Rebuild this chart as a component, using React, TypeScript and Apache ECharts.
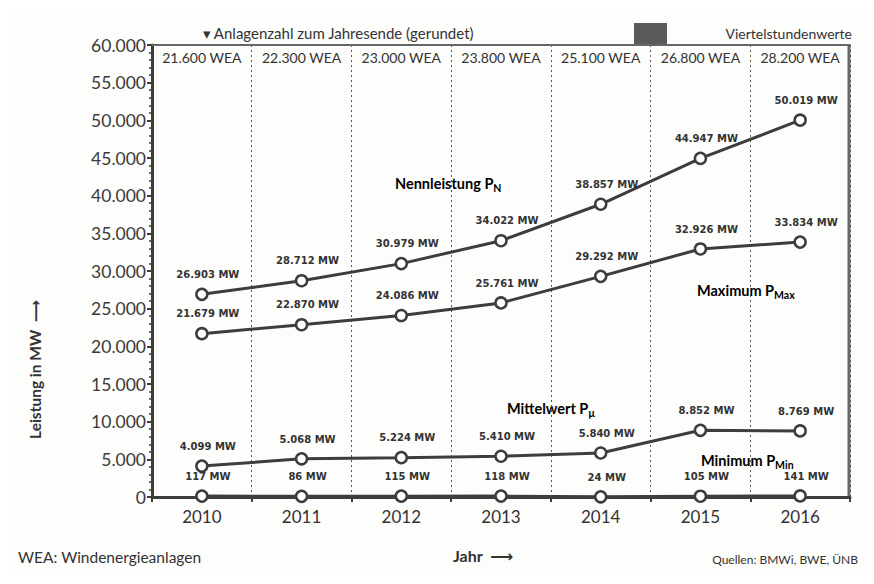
import React, { useEffect, useRef } from "react";
import * as echarts from "echarts";

const years = ["2010", "2011", "2012", "2013", "2014", "2015", "2016"];
const weaCounts = ["21.600 WEA", "22.300 WEA", "23.000 WEA", "23.800 WEA", "25.100 WEA", "26.800 WEA", "28.200 WEA"];
const nennleistung = [26903, 28712, 30979, 34022, 38857, 44947, 50019];
const maximum = [21679, 22870, 24086, 25761, 29292, 32926, 33834];
const mittelwert = [4099, 5068, 5224, 5410, 5840, 8852, 8769];
const minimum = [117, 86, 115, 118, 24, 105, 141];

const FONT = "Lato, 'DejaVu Sans', sans-serif";
const LINE = "#3d3d3d";

const fmt = (v: number) => v.toLocaleString("de-DE") + " MW";

function lineSeries(name: string, data: number[]) {
  return {
    name,
    type: "line",
    data,
    symbol: "circle",
    symbolSize: 11,
    lineStyle: { color: LINE, width: 3 },
    itemStyle: { color: "#ffffff", borderColor: LINE, borderWidth: 2.5 },
    label: {
      show: true,
      position: "top",
      distance: 8,
      offset: [6, 0],
      formatter: (p: any) => fmt(p.value),
      fontFamily: "'DejaVu Sans', sans-serif",
      fontWeight: "bold",
      fontSize: 10,
      color: "#333",
    },
    z: 5,
  };
}

export default function App() {
  const ref = useRef<HTMLDivElement>(null);
  useEffect(() => {
    const chart = echarts.init(ref.current!, null, { renderer: "svg" });
    const sub = (main: string, s: string) => ({
      type: "text",
      style: {
        text: `{m|${main}}{s|${s}}`,
        rich: {
          m: { fontFamily: FONT, fontWeight: "bold", fontSize: 14.5, color: "#333" },
          s: { fontFamily: FONT, fontWeight: "bold", fontSize: 10.5, color: "#333", padding: [8, 0, 0, 0] },
        },
      },
    });
    chart.setOption({
      animation: false,
      backgroundColor: "#fdfdfb",
      grid: { left: 152, right: 24, top: 45, bottom: 87 },
      xAxis: [
        {
          type: "category",
          data: years,
          position: "bottom",
          boundaryGap: true,
          axisLine: { show: true, lineStyle: { color: LINE, width: 3 } },
          axisTick: { show: true, length: 5, inside: false, lineStyle: { color: LINE, width: 2 } },
          axisLabel: { interval: 0, fontFamily: FONT, fontSize: 17, color: "#333", margin: 11 },
          splitLine: { show: true, interval: 0, lineStyle: { color: "#555", width: 1, type: [2, 3] } },
        },
        {
          type: "category",
          data: weaCounts,
          position: "top",
          boundaryGap: true,
          axisLine: { show: true, lineStyle: { color: "#666", width: 2 } },
          axisTick: { show: false },
          axisLabel: {
            interval: 0,
            hideOverlap: false,
            inside: true,
            fontFamily: FONT,
            fontSize: 14,
            color: "#333",
            margin: 5,
            verticalAlign: "top",
          },
          splitLine: { show: false },
        },
      ],
      yAxis: {
        type: "value",
        min: 0,
        max: 60000,
        interval: 5000,
        axisLine: { show: true, lineStyle: { color: LINE, width: 3 } },
        axisTick: { show: true, length: 5, lineStyle: { color: LINE, width: 2 } },
        minorTick: { show: true, splitNumber: 5, length: 3, lineStyle: { color: LINE, width: 1.5 } },
        axisLabel: {
          fontFamily: FONT,
          fontSize: 17.5,
          color: "#3a3a3a",
          margin: 6,
          formatter: (v: number) => v.toLocaleString("de-DE"),
        },
        splitLine: { show: false },
      },
      series: [
        lineSeries("Nennleistung", nennleistung),
        lineSeries("Maximum", maximum),
        lineSeries("Mittelwert", mittelwert),
        lineSeries("Minimum", minimum),
      ],
      graphic: [
        {
          type: "rect",
          shape: { x: 3, y: 3, width: 868, height: 578 },
          style: { fill: "none", stroke: "#777", lineWidth: 1.5 },
          silent: true,
        },
        {
          type: "line",
          shape: { x1: 849, y1: 45, x2: 849, y2: 497 },
          style: { stroke: "#666", lineWidth: 3 },
        },
        {
          type: "text",
          left: 203,
          top: 25,
          style: { text: "▾ Anlagenzahl zum Jahresende (gerundet)", fontFamily: FONT, fontSize: 15, fill: "#333" },
        },
        {
          type: "rect",
          shape: { x: 634, y: 23, width: 33, height: 22 },
          style: { fill: "#5a5a5a" },
        },
        {
          type: "text",
          right: 22,
          top: 26,
          style: { text: "Viertelstundenwerte", fontFamily: FONT, fontSize: 14, fill: "#333" },
        },
        { ...sub("Nennleistung P", "N"), left: 395, top: 176 },
        { ...sub("Maximum P", "Max"), left: 697, top: 283 },
        { ...sub("Mittelwert P", "µ"), left: 507, top: 401 },
        { ...sub("Minimum P", "Min"), left: 701, top: 453 },
        {
          type: "text",
          left: 27,
          top: 300,
          rotation: Math.PI / 2,
          originX: 0,
          originY: 0,
          style: {
            text: "Leistung in MW  ⟶",
            fontFamily: FONT,
            fontWeight: "bold",
            fontSize: 15.5,
            fill: "#333",
            align: "center",
            verticalAlign: "middle",
          },
        },
        {
          type: "text",
          left: 18,
          top: 549,
          style: { text: "WEA: Windenergieanlagen", fontFamily: FONT, fontSize: 15.5, fill: "#333" },
        },
        {
          type: "text",
          left: 453,
          top: 547,
          style: { text: "Jahr  ⟶", fontFamily: FONT, fontWeight: "bold", fontSize: 16, fill: "#333" },
        },
        {
          type: "text",
          right: 16,
          top: 553,
          style: { text: "Quellen: BMWi, BWE, ÜNB", fontFamily: FONT, fontSize: 12, fill: "#333" },
        },
      ],
    });
    return () => chart.dispose();
  }, []);
  return <div ref={ref} style={{ width: 874, height: 584, margin: -8 }} />;
}
